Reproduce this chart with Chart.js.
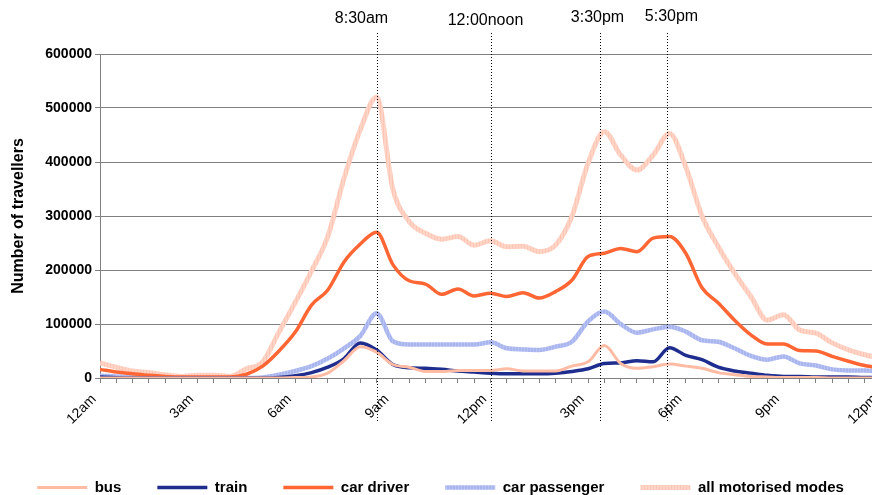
<!DOCTYPE html>
<html><head><meta charset="utf-8">
<script src="https://cdn.jsdelivr.net/npm/chart.js@4"></script>
<style>
html,body{margin:0;padding:0;overflow:hidden;background:#fff;width:872px;height:495px;}
#wrap{position:absolute;left:0;top:0;width:891px;height:495px;}
</style></head><body>
<div id="wrap"><canvas id="c"></canvas></div>
<script>
// ---- data (hours after midnight, every half hour) ----
const times = [0,0.5,1,1.5,2,2.5,3,3.5,4,4.5,5,5.5,6,6.5,7,7.5,8,8.5,9,9.5,10,10.5,11,11.5,12,
  12.5,13,13.5,14,14.5,15,15.5,16,16.5,17,17.5,18,18.5,19,19.5,20,20.5,21,21.5,22,22.5,23,23.5,24];
const xTickLabels = ['12am','3am','6am','9am','12pm','3pm','6pm','9pm','12pm'];
const seriesNames = ['bus','train','car driver','car passenger','all motorised modes'];

const bus = [0,0,0,0,0,0,0,0,0,0,0,0,1000,2000,9000,32000,58000,48000,25000,20000,12000,12000,14000,14000,14000,
  17000,13000,13000,13000,22000,30000,60000,27000,18000,21000,26000,22000,18000,10000,6000,3000,2000,1000,1000,1000,0,0,0,0];
const train = [2000,500,0,0,0,0,0,0,0,0,0,1000,4000,10000,20000,36000,65000,52000,25000,19000,18000,16000,13000,11000,9000,
  8000,8000,8000,9000,12000,17000,27000,28000,32000,30000,56000,42000,34000,20000,13000,9000,5000,3000,3000,2000,2000,2000,1000,1000];
const carDriver = [16000,11000,8000,5000,3000,2000,2000,2000,2000,7000,22000,50000,85000,135000,163000,215000,248000,270000,210000,180000,174000,155000,165000,152000,157000,
  151000,158000,148000,160000,181000,225000,231000,240000,234000,259000,262000,231000,167000,139000,107000,80000,63000,63000,51000,50000,40000,31000,23000,18000];
const carPassenger = [4000,3000,2000,1000,1000,0,0,0,0,0,1000,6000,13000,22000,36000,55000,78000,120000,68000,62000,62000,62000,62000,62000,66000,
  55000,53000,52000,58000,67000,105000,123000,100000,84000,90000,95000,86000,70000,67000,55000,41000,34000,40000,27000,23000,16000,14000,14000,12000];
const allModes = [28000,20000,13000,10000,6000,3000,5000,5000,3000,17000,30000,85000,140000,198000,262000,370000,460000,520000,350000,290000,268000,257000,262000,246000,254000,
  243000,244000,234000,246000,299000,398000,456000,413000,385000,413000,453000,391000,300000,243000,194000,151000,107000,117000,89000,83000,65000,52000,43000,36000];

const yTicks = [0,100000,200000,300000,400000,500000,600000];
const markerTimes = [8.5, 12, 15.38, 17.43];
const markerLabels = ['8:30am','12:00noon','3:30pm','5:30pm'];

// ---- styling ----
const FONT = '"Liberation Sans", Arial, Helvetica, sans-serif';
function stripes(c1, c2){
  const cv = document.createElement('canvas'); cv.width = 3; cv.height = 3;
  const g = cv.getContext('2d');
  g.fillStyle = c1; g.fillRect(0,0,3,3);
  g.fillStyle = c2; g.fillRect(2,0,1,3);
  return g.createPattern(cv,'repeat');
}
const pts = arr => arr.map((v,i)=>({x:times[i], y:v}));
const seriesData = [bus, train, carDriver, carPassenger, allModes];
const colors = ['#FFBBA3', '#1F2E8E', '#FF6633', stripes('#A9B5EF','#B9C3F2'), stripes('#FFD4C6','#FFC6B3')];
const widths = [3, 3.5, 3.5, 4.5, 5];

const markerPlugin = {
  id: 'markers',
  afterDatasetsDraw(chart){
    const {ctx, chartArea, scales:{x}} = chart;
    const shift = [-16, -6, -3, 4];
    const ly = [19, 21, 18, 17];
    ctx.save();
    ctx.strokeStyle = '#000'; ctx.lineWidth = 1; ctx.setLineDash([1,2]);
    ctx.font = '16px ' + FONT; ctx.fillStyle = '#000';
    ctx.textAlign = 'center'; ctx.textBaseline = 'middle';
    markerTimes.forEach((t,i)=>{
      const px = Math.round(x.getPixelForValue(t)) + 0.5;
      ctx.beginPath(); ctx.moveTo(px, chartArea.top - 21); ctx.lineTo(px, chartArea.bottom + 45); ctx.stroke();
      ctx.fillText(markerLabels[i], px + shift[i], ly[i]);
    });
    ctx.restore();
  }
};

new Chart(document.getElementById('c'), {
  type: 'line',
  data: {
    datasets: seriesNames.map((n,i)=>({
      label: n,
      data: pts(seriesData[i]),
      borderColor: colors[i],
      backgroundColor: colors[i],
      borderWidth: widths[i],
      pointRadius: 0,
      fill: false,
      cubicInterpolationMode: 'monotone'
    }))
  },
  options: {
    responsive: true,
    maintainAspectRatio: false,
    animation: false,
    events: [],
    layout: { padding: { top: 54, right: 10, left: 0, bottom: -10 } },
    plugins: {
      tooltip: { enabled: false },
      legend: {
        position: 'bottom',
        labels: {
          usePointStyle: true, pointStyle: 'line', pointStyleWidth: 50,
          padding: 36, color: '#000',
          font: { family: FONT, size: 15, weight: 'bold' }
        }
      }
    },
    scales: {
      x: {
        type: 'linear', min: 0, max: 24,
        afterFit: s => { s.height = 66; s.paddingRight = 10; s.paddingLeft = 10; },
        ticks: {
          stepSize: 0.5, autoSkip: false, maxRotation: 45, minRotation: 45,
          color: '#000', font: { family: FONT, size: 14 }, padding: 8, labelOffset: -6,
          callback: v => (v % 3 === 0) ? xTickLabels[v/3] : ''
        },
        grid: { drawOnChartArea: false, drawTicks: true, tickLength: 5, color: '#808080' },
        border: { color: '#808080', width: 1 }
      },
      y: {
        min: 0, max: 600000,
        afterFit: s => { s.width = 100; },
        afterBuildTicks: s => { s.ticks = yTicks.map(v => ({value: v})); },
        ticks: {
          color: '#000', font: { family: FONT, size: 14, weight: 'bold' }, padding: 3,
          callback: v => String(v)
        },
        grid: { color: '#808080', tickLength: 5 },
        border: { color: '#808080', width: 1 },
        title: { display: true, text: 'Number of travellers', color: '#000',
          font: { family: FONT, size: 16, weight: 'bold' }, padding: { top: 9, bottom: 0 } }
      }
    }
  },
  plugins: [markerPlugin]
});
</script>
</body></html>
